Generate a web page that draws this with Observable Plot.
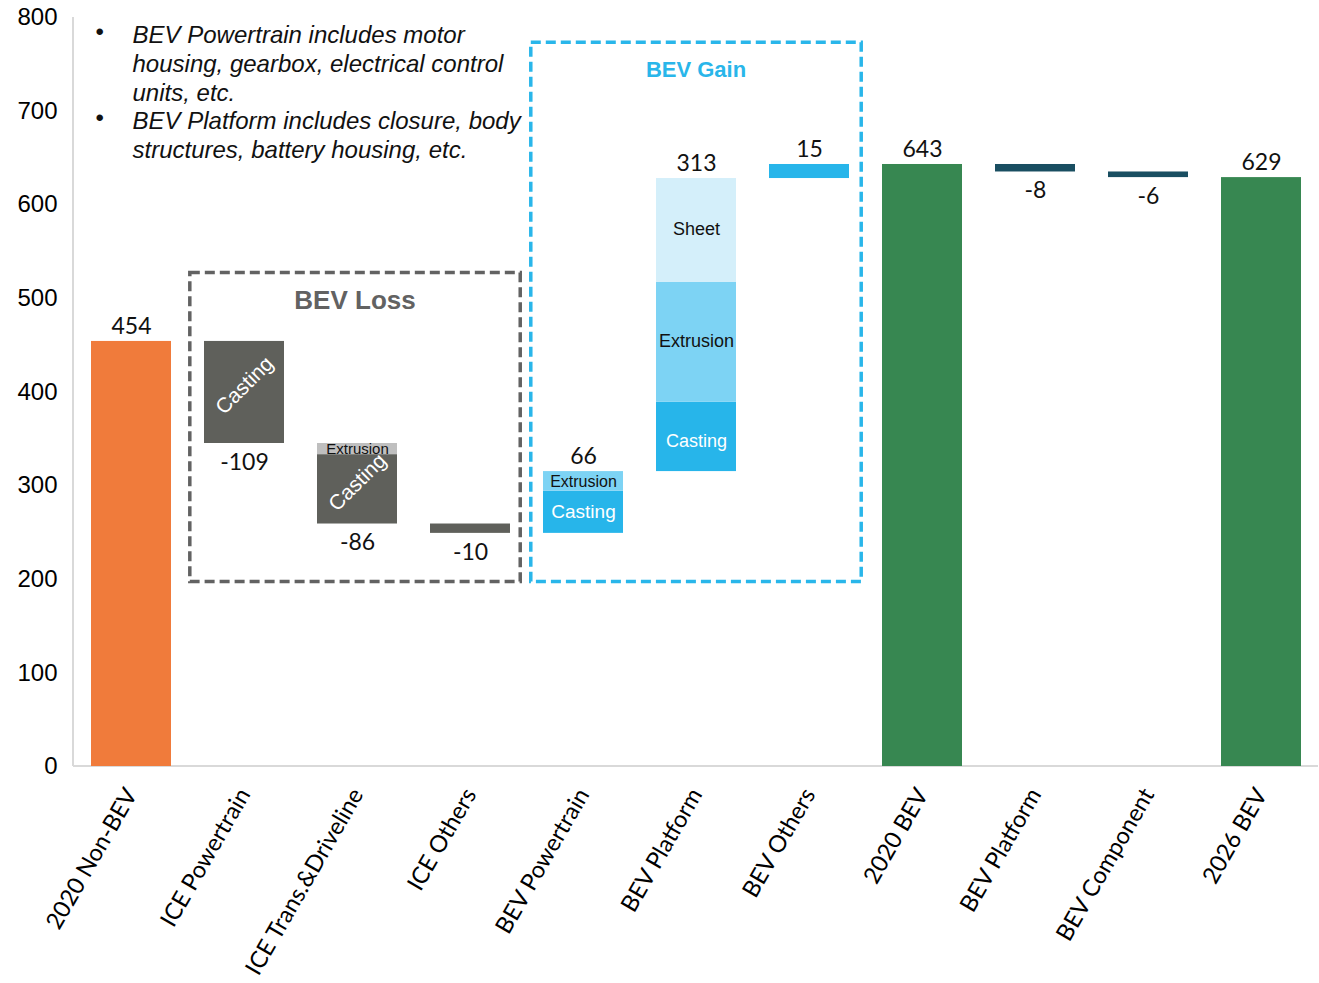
<!DOCTYPE html>
<html><head><meta charset="utf-8">
<script src="https://cdn.jsdelivr.net/npm/d3@7"></script>
<script src="https://cdn.jsdelivr.net/npm/@observablehq/plot@0.6"></script>
<style>body{margin:0;background:#fff} #chart svg{display:block}</style>
</head><body><div id="chart"></div>
<script>
// ---- data ----
const categories = ["2020 Non-BEV","ICE Powertrain","ICE Trans.&Driveline","ICE Others","BEV Powertrain","BEV Platform","BEV Others","2020 BEV","BEV Platform","BEV Component","2026 BEV"];
const stepValues = [454,-109,-86,-10,66,313,15,643,-8,-6,629];
const stepKinds = ["total","delta","delta","delta","delta","delta","delta","total","delta","delta","total"];
const stepGroups = ["base","loss","loss","loss","gain","gain","gain","bev","adjust","adjust","bev"];
// breakdown of each step into parts (in stacking order from the running level)
const segStep  = [0,1,2,2,3,4,4,5,5,5,6,7,8,9,10];
const segPart  = ["Total","Casting","Extrusion","Casting","Other","Casting","Extrusion","Casting","Extrusion","Sheet","Other","Total","Other","Other","Total"];
const segValue = [454,-109,-12,-74,-10,45,21,74,128,111,15,643,-8,-6,629];
const yTicks = [0,100,200,300,400,500,600,700,800];
const boxTitles = ["BEV Loss","BEV Gain"];
const boxFrom = [1,4], boxTo = [3,6], boxLow = [197,197], boxHigh = [527,773];
const notes = ["BEV Powertrain includes motor\nhousing, gearbox, electrical control\nunits, etc.","BEV Platform includes closure, body\nstructures, battery housing, etc."];

// ---- derived ----
const segs = [];
let cur = 0;
segStep.forEach((s, j) => {
  if (stepKinds[s] === "total" && (j === 0 || segStep[j-1] !== s)) cur = 0;
  const a = cur; cur += segValue[j];
  segs.push({x: s, y1: a, y2: cur, lo: Math.min(a, cur), hi: Math.max(a, cur), part: segPart[j], group: stepGroups[s]});
});
const steps = categories.map((c, i) => {
  const ss = segs.filter(d => d.x === i);
  return {x: i, value: stepValues[i], lo: d3.min(ss, d => d.lo), hi: d3.max(ss, d => d.hi)};
});
function fillFor(d) {
  if (d.group === "base") return "#F07B3B";
  if (d.group === "bev") return "#378751";
  if (d.group === "adjust") return "#194E61";
  if (d.group === "loss") return d.part === "Extrusion" ? "#BFBFBF" : "#5F605B";
  return d.part === "Extrusion" ? "#7DD3F4" : d.part === "Sheet" ? "#D4EFFA" : "#27B5EA";
}
const inner = segs.filter(d => d.part === "Casting" || d.part === "Extrusion" || d.part === "Sheet").map(d => ({...d, mid: (d.lo + d.hi) / 2}));

const pos = steps.filter(d => d.value >= 0);
const neg = steps.filter(d => d.value < 0);

const frameLines = (index, {x, y}, values, dims) => {
  const g = d3.create("svg:g");
  g.append("line").attr("x1", dims.marginLeft).attr("x2", dims.marginLeft).attr("y1", y(800)).attr("y2", y(0)).attr("stroke", "#D9D9D9").attr("stroke-width", 2);
  g.append("line").attr("x1", dims.marginLeft).attr("x2", dims.width - dims.marginRight).attr("y1", y(0)).attr("y2", y(0)).attr("stroke", "#D9D9D9").attr("stroke-width", 2);
  return g.node();
};
const boxes = (index, {x, y}) => {
  const g = d3.create("svg:g");
  const bw = typeof x.bandwidth === "function" ? x.bandwidth() : x.bandwidth;
  const step = x(1) - x(0);
  const gap = step - bw;
  const styles = [{stroke: "#626262", size: 26, l: 0.43, r: 0.31}, {stroke: "#29B6EA", size: 22, l: 0.37, r: 0.37}];
  boxTitles.forEach((t, i) => {
    const l = x(boxFrom[i]) - gap * styles[i].l, r = x(boxTo[i]) + bw + gap * styles[i].r;
    const top = y(boxHigh[i]), bot = y(boxLow[i]);
    g.append("rect").attr("x", l).attr("y", top).attr("width", r - l).attr("height", bot - top)
      .attr("fill", "none").attr("stroke", styles[i].stroke).attr("stroke-width", 3.5).attr("stroke-dasharray", "10,5");
    g.append("text").attr("x", (l + r) / 2).attr("y", top + 27).attr("dy", "0.35em").attr("text-anchor", "middle")
      .attr("font-family", "Liberation Sans, Arial, sans-serif").attr("font-weight", "bold").attr("font-size", styles[i].size)
      .attr("fill", styles[i].stroke).text(t);
  });
  return g.node();
};

const sans = "Liberation Sans, Arial, sans-serif";
const plot = Plot.plot({
  width: 1319,
  height: 983,
  marginLeft: 73,
  marginRight: 1,
  marginTop: 17,
  marginBottom: 217,
  style: {fontFamily: "Lato, sans-serif", background: "#fff", color: "#000"},
  x: {type: "band", domain: d3.range(categories.length), paddingInner: 0.293, paddingOuter: 0.146, align: 0.5},
  y: {domain: [0, 800]},
  marks: [
    frameLines,
    Plot.axisY({ticks: yTicks, tickSize: 0, tickPadding: 16, fontSize: 24, fontFamily: sans, label: null, fill: "#000"}),
    Plot.axisX({tickFormat: i => categories[i], tickRotate: -60, tickSize: 0, tickPadding: 24, fontSize: 23.5, label: null, fill: "#000"}),
    boxes,
    Plot.barY(segs, {x: "x", y1: "y1", y2: "y2", fill: fillFor}),
    // labels inside segments
    Plot.text(inner.filter(d => d.group === "loss" && d.part === "Casting"), {x: "x", y: "mid", text: d => d.part, rotate: -45, fill: "white", fontSize: 21, fontFamily: sans, dy: -7}),
    Plot.text(inner.filter(d => d.group === "loss" && d.part === "Extrusion"), {x: "x", y: "mid", text: d => d.part, fill: "#111", fontSize: 15, fontFamily: sans}),
    Plot.text(inner.filter(d => d.x === 4 && d.part === "Casting"), {x: "x", y: "mid", text: d => d.part, fill: "white", fontSize: 19, fontFamily: sans}),
    Plot.text(inner.filter(d => d.x === 4 && d.part !== "Casting"), {x: "x", y: "mid", text: d => d.part, fill: "#111", fontSize: 16, fontFamily: sans}),
    Plot.text(inner.filter(d => d.x === 5 && d.part === "Casting"), {x: "x", y: "mid", text: d => d.part, fill: "white", fontSize: 18, fontFamily: sans, dy: 4}),
    Plot.text(inner.filter(d => d.x === 5 && d.part !== "Casting"), {x: "x", y: "mid", text: d => d.part, fill: "#111", fontSize: 18, fontFamily: sans, dy: -1}),
    // value labels
    Plot.text(pos, {x: "x", y: "hi", text: d => String(d.value), dy: -15, fontSize: 23, fill: "#111"}),
    Plot.text(neg, {x: "x", y: "lo", text: d => String(d.value), dy: 19, fontSize: 23, fill: "#111"}),
    // notes
    Plot.text(["•"], {frameAnchor: "top-left", dx: 22, dy: 5.5, lineAnchor: "top", fontSize: 24, fontFamily: sans, fill: "#111"}),
    Plot.text(["•"], {frameAnchor: "top-left", dx: 22, dy: 91.5, lineAnchor: "top", fontSize: 24, fontFamily: sans, fill: "#111"}),
    Plot.text([notes[0]], {frameAnchor: "top-left", dx: 59, dy: 5.5, lineAnchor: "top", lineHeight: 1.2, fontSize: 24, fontStyle: "italic", fontFamily: sans, fill: "#111", textAnchor: "start"}),
    Plot.text([notes[1]], {frameAnchor: "top-left", dx: 59, dy: 91.5, lineAnchor: "top", lineHeight: 1.2, fontSize: 24, fontStyle: "italic", fontFamily: sans, fill: "#111", textAnchor: "start"})
  ]
});
document.getElementById("chart").append(plot);
</script>
</body></html>
